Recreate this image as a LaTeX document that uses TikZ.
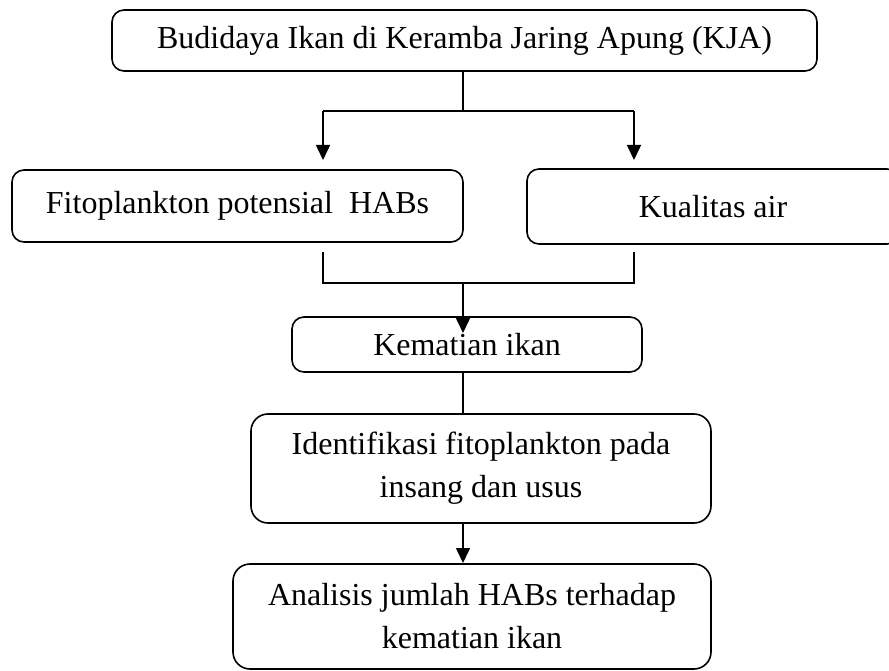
\documentclass[tikz,border=0pt]{standalone}
\usepackage{fontspec}
\setmainfont{Liberation Serif}
\usetikzlibrary{arrows.meta}
\begin{document}
\begin{tikzpicture}[x=1pt,y=-1pt,
  box/.style={draw, line width=1.6pt, rounded corners=12pt, align=center,
    font=\fontsize{32}{43}\selectfont, inner sep=0pt},
  conn/.style={line width=1.6pt},
  arr/.style={line width=1.6pt, -{Triangle[width=14pt,length=15pt]}}]
\clip (0,0) rectangle (889,671);
\fill[white] (0,0) rectangle (889,671);
\node[box, minimum width=705pt, minimum height=61pt] (top) at (464.5,40.5) {Budidaya Ikan di Keramba Jaring Apung (KJA)};
\node[box, minimum width=451pt, minimum height=72pt] (fito) at (237.5,206) {Fitoplankton potensial\ \ HABs};
\node[box, minimum width=372pt, minimum height=75pt] (air) at (713,206.5) {Kualitas air};
\node[box, minimum width=350pt, minimum height=55pt] (mati) at (467,344.5) {Kematian ikan};
\node[box, rounded corners=17pt, minimum width=460pt, minimum height=109pt] (iden) at (481,468.5) {Identifikasi fitoplankton pada\\insang dan usus};
\node[box, rounded corners=17pt, minimum width=478pt, minimum height=105pt] (anal) at (472,616.5) {Analisis jumlah HABs terhadap\\kematian ikan};
% top split
\coordinate (s1) at (463,111);
\coordinate (sl) at (323,111);
\coordinate (sr) at (634,111);
\coordinate (tl) at (323,160);
\coordinate (tr) at (634,160);
\draw[conn] (top.south -| s1) -- (s1);
\draw[conn] (sl) -- (sr);
\draw[arr] (sl) -- (tl);
\draw[arr] (sr) -- (tr);
% merge
\coordinate (ml0) at (323,252);
\coordinate (ml) at (323,283);
\coordinate (mr0) at (634,252);
\coordinate (mr) at (634,283);
\coordinate (mc) at (463,283);
\coordinate (mt) at (463,333);
\draw[conn] (ml0) -- (ml) -- (mr) -- (mr0);
\draw[arr] (mc) -- (mt);
% lower
\draw[conn] (mati.south -| mc) -- (iden.north -| mc);
\coordinate (at) at (463,563);
\draw[arr] (iden.south -| mc) -- (at);
\end{tikzpicture}
\end{document}
